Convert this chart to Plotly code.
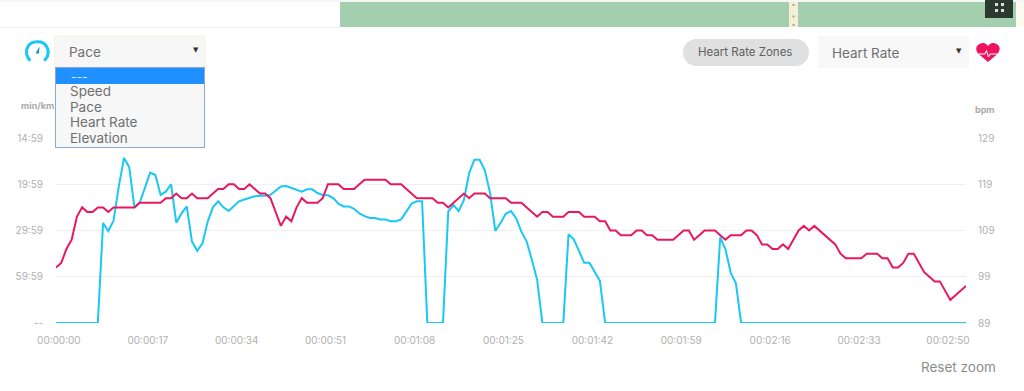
import plotly.graph_objects as go

FONT = "Inter"
BLUE = "#19c8f5"
PINK = "#e8185f"
GREY = "#b0b0b0"

seconds = list(range(175))
tick_seconds = [0, 17, 34, 51, 68, 85, 102, 119, 136, 153, 170]
tick_labels = ["00:00:00", "00:00:17", "00:00:34", "00:00:51", "00:01:08", "00:01:25",
               "00:01:42", "00:01:59", "00:02:16", "00:02:33", "00:02:50"]
speed_ticks = [0, 1, 2, 3, 4]
pace_labels = ["--", "59:59", "29:59", "19:59", "14:59"]
hr_ticks = [89, 99, 109, 119, 129]

speed = ([0, 0, 0, 0, 0, 0, 0, 0, 0, 2.16, 1.99, 2.21, 2.95, 3.57, 3.37, 2.5, 2.6, 2.92, 3.25, 3.2,
          2.77, 2.84, 3.0, 2.17, 2.37, 2.52, 1.76, 1.56, 1.72, 2.19, 2.5, 2.63, 2.5, 2.42, 2.52, 2.63,
          2.67, 2.7, 2.74, 2.75, 2.75, 2.77, 2.86, 2.95, 2.96, 2.92, 2.87, 2.84, 2.89, 2.89, 2.81, 2.77,
          2.76, 2.7, 2.58, 2.52, 2.52, 2.47, 2.37, 2.31, 2.27, 2.27, 2.24, 2.24, 2.2, 2.2, 2.24, 2.42,
          2.58, 2.63, 2.63, 0, 0, 0, 0, 2.41, 2.55, 2.42, 2.66, 3.24, 3.53, 3.53, 3.3, 2.81, 1.99, 2.16,
          2.36, 2.42, 2.26, 1.97, 1.76, 1.36, 0.93, 0, 0, 0, 0, 0, 1.92, 1.81, 1.56, 1.3, 1.3, 1.11, 0.91]
         + [0] * 22 + [1.85, 1.6, 1.09, 0.86] + [0] * 44)

heart_rate = [101, 102, 105, 107, 112, 114, 113, 113, 114, 114, 113, 114, 114, 114, 114, 114, 115, 115, 115, 115,
              115, 116, 116, 117, 116, 116, 117, 116, 116, 116, 117, 118, 118, 119, 119, 118, 118, 119, 118, 117,
              117, 116, 113, 110, 112, 111, 114, 116, 115, 115, 115, 116, 119, 119, 119, 118, 118, 118, 119, 120,
              120, 120, 120, 120, 119, 119, 119, 118, 117, 116, 116, 116, 116, 115, 115, 114, 115, 116, 117, 116,
              117, 117, 117, 116, 116, 116, 116, 115, 115, 115, 114, 113, 112, 113, 113, 112, 112, 112, 113, 113,
              113, 112, 112, 112, 111, 111, 109, 109, 108, 108, 108, 109, 109, 108, 108, 107, 107, 107, 107, 108,
              109, 109, 107, 108, 109, 109, 109, 108, 107, 108, 108, 108, 109, 109, 108, 106, 106, 105, 105, 106,
              105, 107, 109, 110, 109, 110, 109, 108, 107, 106, 104, 103, 103, 103, 103, 104, 104, 104, 103, 103,
              101, 101, 102, 104, 104, 102, 100, 99, 98, 98, 96, 94, 95, 96, 97]

W, H = 1024, 391
def px(x): return x / W
def py(y): return 1 - y / H

def path(cmds):
    out = []
    for c in cmds:
        nums = [c[i] for i in range(1, len(c))]
        pts = [f"{px(nums[i]):.5f},{py(nums[i + 1]):.5f}" for i in range(0, len(nums), 2)]
        out.append(c[0] + " ".join(pts))
    return " ".join(out)

def rect(x0, y0, x1, y1, fill, line=None, lw=1):
    return dict(type="rect", xref="paper", yref="paper", x0=px(x0), x1=px(x1), y0=py(y0), y1=py(y1),
                fillcolor=fill, line=dict(color=line or fill, width=lw if line else 0), layer="above")

def shape_path(cmds, fill=None, line=None, lw=0):
    return dict(type="path", xref="paper", yref="paper", path=path(cmds),
                fillcolor=fill or "rgba(0,0,0,0)",
                line=dict(color=line or "rgba(0,0,0,0)", width=lw), layer="above")

def pill(x0, y0, x1, y1, fill):
    r = (y1 - y0) / 2
    k = r * 0.55
    ym = (y0 + y1) / 2
    return shape_path([("M", x0 + r, y0), ("L", x1 - r, y0),
                       ("C", x1 - r + k, y0, x1, ym - k, x1, ym), ("C", x1, ym + k, x1 - r + k, y1, x1 - r, y1),
                       ("L", x0 + r, y1),
                       ("C", x0 + r - k, y1, x0, ym + k, x0, ym), ("C", x0, ym - k, x0 + r - k, y0, x0 + r, y0), ("Z",)],
                      fill=fill)

def text(x, y, s, size=13, color="#707070", anchor="left", weight=None, family=FONT):
    return dict(xref="paper", yref="paper", x=px(x), y=py(y), text=s, showarrow=False, xanchor=anchor,
                yanchor="middle", font=dict(family=family, size=size, color=color, weight=weight or 400),
                borderpad=0, borderwidth=0)

def box(x0, y0, x1, y1, fill, border=None):
    return dict(xref="paper", yref="paper", x=px(x0), y=py(y0), text=" ", showarrow=False, xanchor="left",
                yanchor="top", width=x1 - x0 - (2 if border else 0), height=y1 - y0 - (2 if border else 0),
                bgcolor=fill, bordercolor=border or fill, borderwidth=1 if border else 0, borderpad=0,
                font=dict(size=1))

fig = go.Figure()
fig.add_trace(go.Scatter(x=seconds, y=speed, mode="lines", line=dict(color=BLUE, width=2), yaxis="y",
                         hoverinfo="skip", cliponaxis=False))
fig.add_trace(go.Scatter(x=seconds, y=heart_rate, mode="lines", line=dict(color=PINK, width=2), yaxis="y2",
                         hoverinfo="skip", cliponaxis=False))

shapes = [
    dict(type="line", xref="paper", yref="paper", x0=0, x1=px(340), y0=py(27.5), y1=py(27.5), line=dict(color="#f0f0f0", width=1), layer="above"),
    dict(type="line", xref="paper", yref="paper", x0=0, x1=1, y0=py(1), y1=py(1), line=dict(color="#ececec", width=1), layer="above"),
    rect(340, 2, 1016, 27, "#a3cfae"),
    rect(1016, 2, 1024, 27, "#fbfbf0"),
    rect(789, 2, 798, 27, "#f4f0d8"),
    rect(792.5, 4, 794.5, 6, "#b9a468"),
    rect(792.5, 15.5, 794.5, 17.5, "#b9a468"),
    rect(792.5, 24, 794.5, 26, "#b9a468"),
    rect(985, 0, 1013, 18, "#2a3a2e"),
    rect(995, 3, 998, 6, "#dddddd"), rect(1001, 3, 1004, 6, "#dddddd"),
    rect(995, 9, 998, 12, "#dddddd"), rect(1001, 9, 1004, 12, "#dddddd"),
    rect(54.5, 36, 205, 67, "#f7f7f7", "#f3f5dc"),
    pill(683, 39, 809, 66, "#e0e0e0"),
    rect(818, 36, 969, 68, "#f8f8f8"),
    # gauge icon
    shape_path([("M", 30.5, 60.5), ("C", 26, 57.5, 25.5, 50, 28, 46.5), ("C", 31, 41, 43, 39.5, 46.5, 46.5),
                ("C", 49.5, 51, 48.5, 57.5, 44, 60.5)], line=BLUE, lw=3),
    shape_path([("M", 35.5, 53.5), ("L", 39.5, 46.5), ("L", 39, 53.5), ("Z",)], fill="#1593b8"),
    # heart icon
    shape_path([("M", 988, 62), ("L", 978.5, 54), ("C", 973, 47, 979, 43, 983, 43), ("C", 985.5, 43, 987, 44.5, 988, 46),
                ("C", 989, 44.5, 990.5, 43, 993, 43), ("C", 997, 43, 1003, 47, 997.5, 54), ("Z",)], fill="#f0145f"),
    shape_path([("M", 976, 54), ("L", 985, 54), ("L", 986.5, 50.5), ("L", 988.5, 57), ("L", 990, 54), ("L", 1000, 54)],
               line="#ffffff", lw=1),
]

annotations = [
    text(21, 105, "min/km", size=9, color="#aaaaaa", weight=700),
    text(975, 109, "bpm", size=9, color="#aaaaaa", weight=700),
    box(55, 67, 205, 148, "#f7f7f7", "#8fa8d8"),
    box(56, 68, 204, 84, "#1e90ff"),
    text(69, 52, "Pace", size=13.5),
    text(196, 50.5, "▼", size=7, color="#333333", anchor="center", family="DejaVu Sans"),
    text(71, 76, "---", size=12, color="#d8ecff"),
    text(70, 91, "Speed", size=13.5),
    text(70, 107, "Pace", size=13.5),
    text(70, 122, "Heart Rate", size=13.5),
    text(70, 138, "Elevation", size=13.5),
    text(698, 52, "Heart Rate Zones", size=11.5, color="#606060"),
    text(832, 53, "Heart Rate", size=13.5),
    text(959, 51, "▼", size=7, color="#333333", anchor="center", family="DejaVu Sans"),
    text(921, 367, "Reset zoom", size=13.5, color="#8c8c8c"),
]

fig.update_layout(
    width=W, height=H, margin=dict(l=0, r=0, t=0, b=0, autoexpand=False), autosize=False,
    paper_bgcolor="#ffffff", plot_bgcolor="#ffffff", showlegend=False, dragmode=False,
    font=dict(family=FONT, size=10, color=GREY),
    xaxis=dict(domain=[px(56), px(966)], range=[0, 174],
               tickmode="array", tickvals=[t + 0.55 for t in tick_seconds], ticktext=tick_labels,
               showgrid=False, zeroline=False, showline=False, ticks="outside", ticklen=8,
               tickcolor="rgba(0,0,0,0)", tickfont=dict(size=10, color=GREY)),
    yaxis=dict(domain=[py(323), py(138)], range=[0, 4], tickmode="array", tickvals=speed_ticks, ticktext=pace_labels,
               showgrid=True, gridcolor="#f0f0f0", gridwidth=1, zeroline=False, showline=False,
               ticks="outside", ticklen=10, tickcolor="rgba(0,0,0,0)", tickfont=dict(size=10, color=GREY)),
    yaxis2=dict(domain=[py(323), py(138)], range=[89, 129], overlaying="y", side="right", anchor="x",
                tickmode="array", tickvals=hr_ticks, showgrid=False, zeroline=False, showline=False,
                ticks="outside", ticklen=9, tickcolor="rgba(0,0,0,0)", tickfont=dict(size=10, color=GREY)),
    shapes=shapes, annotations=annotations,
)
assert len(speed) == len(seconds) and len(heart_rate) == len(seconds), (len(speed), len(heart_rate))
fig.write_html("out.html", config=dict(displayModeBar=False), post_script="document.body.style.margin='0';")
